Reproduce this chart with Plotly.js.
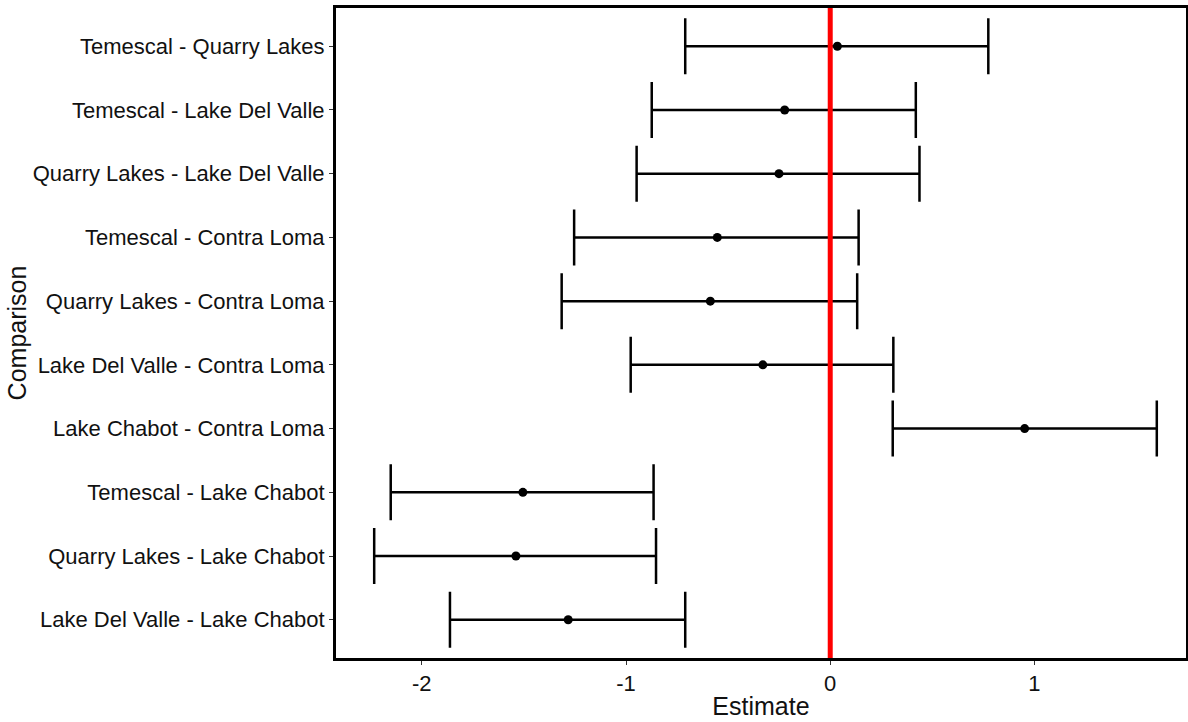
<!DOCTYPE html>
<html>
<head>
<meta charset="utf-8">
<script src="https://cdn.plot.ly/plotly-3.0.1.min.js"></script>
<style>html,body{margin:0;padding:0;background:#fff;}#chart{width:1188px;height:722px;}</style>
</head>
<body>
<div id="chart"></div>
<script>
// Comparisons listed top to bottom
const comparisons = [
  "Temescal - Quarry Lakes",
  "Temescal - Lake Del Valle",
  "Quarry Lakes - Lake Del Valle",
  "Temescal - Contra Loma",
  "Quarry Lakes - Contra Loma",
  "Lake Del Valle - Contra Loma",
  "Lake Chabot - Contra Loma",
  "Temescal - Lake Chabot",
  "Quarry Lakes - Lake Chabot",
  "Lake Del Valle - Lake Chabot"
];
const estimate = [0.035, -0.223, -0.251, -0.553, -0.587, -0.330, 0.952, -1.505, -1.539, -1.283];
const lower    = [-0.710, -0.874, -0.948, -1.254, -1.315, -0.977, 0.306, -2.152, -2.233, -1.862];
const upper    = [0.774, 0.419, 0.437, 0.139, 0.132, 0.309, 1.599, -0.865, -0.853, -0.710];
const xTickVals = [-2, -1, 0, 1];
const xTickText = ["-2", "-1", "0", "1"];
const refLine = 0;

const trace = {
  type: "scatter",
  mode: "markers",
  x: estimate,
  y: comparisons,
  marker: {color: "#000000", size: 9},
  error_x: {
    type: "data",
    symmetric: false,
    array: upper.map((u, i) => u - estimate[i]),
    arrayminus: lower.map((l, i) => estimate[i] - l),
    color: "#000000",
    thickness: 2.5,
    width: 28
  },
  hoverinfo: "x+y",
  showlegend: false
};

const fam = "Liberation Sans, Arial, sans-serif";
const txt = "#111111";

const layout = {
  width: 1188,
  height: 722,
  margin: {l: 336, r: 2, t: 8, b: 64},
  paper_bgcolor: "#ffffff",
  plot_bgcolor: "#ffffff",
  font: {family: fam, color: txt},
  xaxis: {
    range: [-2.42, 1.742],
    tickvals: xTickVals,
    ticktext: xTickText,
    showgrid: false,
    zeroline: false,
    showline: true,
    mirror: true,
    linecolor: "#000000",
    linewidth: 3,
    ticks: "outside",
    ticklen: 4,
    tickwidth: 1,
    tickcolor: "#333333",
    tickfont: {size: 22, family: fam, color: txt},
    title: {text: "Estimate", font: {size: 25, family: fam, color: txt}, standoff: 3},
    automargin: false
  },
  yaxis: {
    type: "category",
    categoryorder: "array",
    categoryarray: comparisons,
    range: [9.6, -0.6],
    showgrid: false,
    zeroline: false,
    showline: true,
    mirror: true,
    linecolor: "#000000",
    linewidth: 3,
    ticks: "outside",
    ticklen: 4,
    tickwidth: 1,
    tickcolor: "#333333",
    tickfont: {size: 22, family: fam, color: txt},
    title: {text: "Comparison", font: {size: 25, family: fam, color: txt}, standoff: 0},
    automargin: false
  },
  shapes: [{
    type: "line",
    xref: "x",
    yref: "paper",
    x0: refLine, x1: refLine,
    y0: 0, y1: 1,
    line: {color: "#ff0000", width: 5},
    layer: "above"
  }]
};

Plotly.newPlot("chart", [trace], layout, {displayModeBar: false, staticPlot: true});
</script>
</body>
</html>
